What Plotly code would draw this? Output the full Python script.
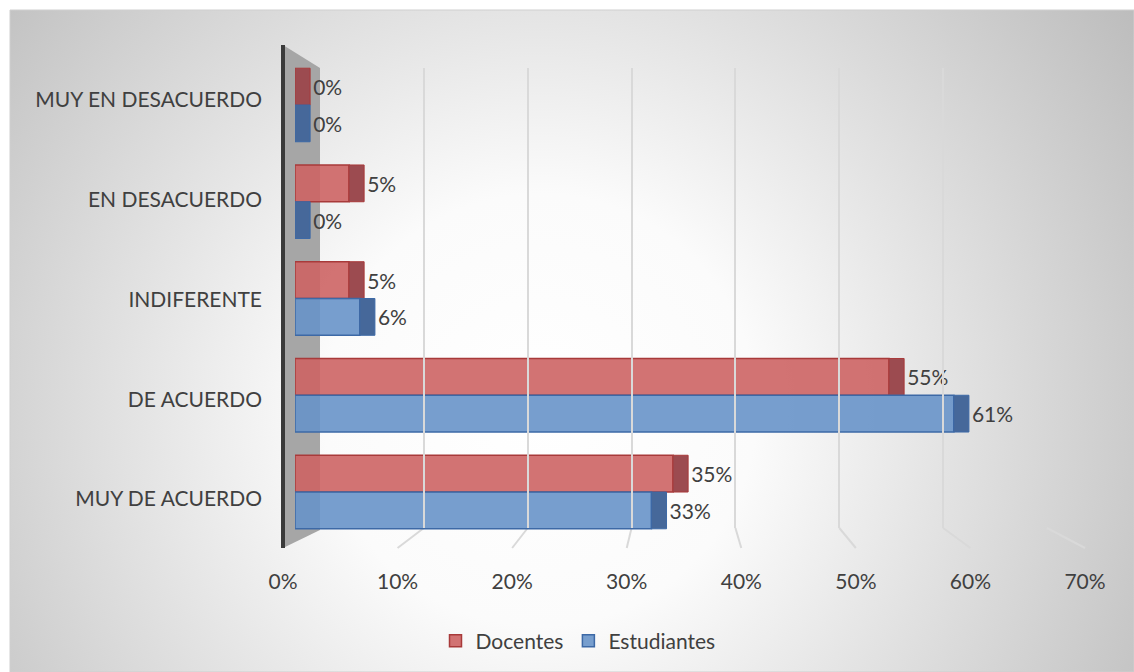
import base64
import plotly.graph_objects as go

# ---------------- data ----------------
categories = ["MUY DE ACUERDO", "DE ACUERDO", "INDIFERENTE", "EN DESACUERDO", "MUY EN DESACUERDO"]
docentes = [35, 55, 5, 5, 0]
estudiantes = [33, 61, 6, 0, 0]
x_ticks = [0, 10, 20, 30, 40, 50, 60, 70]
tick_labels = ["0%", "10%", "20%", "30%", "40%", "50%", "60%", "70%"]

# ---------------- layout helpers ----------------
W, H = 1134, 672


def px(x):
    return x / W


def py(y):
    return (H - y) / H


FONT = "Lato"
FS = 21
TXT = "#404040"
DEPTH = 1.4      # depth of the 3D end-cap, in axis units
BAR_W = 0.38

series = [
    ("Docentes", docentes, "rgba(205,100,100,0.9)", "#A83A3A", "#9C4B50", 0.0),
    ("Estudiantes", estudiantes, "rgba(104,148,201,0.9)", "#3D69A6", "#46689A", -BAR_W),
]

fig = go.Figure()

for name, vals, face, edge, cap, off in series:
    fig.add_trace(go.Bar(
        y=categories, x=vals, orientation="h", name=name,
        width=BAR_W, offset=off,
        marker=dict(color=face, line=dict(color=edge, width=1.5)),
        xaxis="x", yaxis="y", hoverinfo="skip",
    ))
    fig.add_trace(go.Bar(
        y=categories, x=[DEPTH] * len(vals), base=vals, orientation="h",
        showlegend=False, width=BAR_W, offset=off,
        marker=dict(color=cap, line=dict(color=edge, width=1)),
        text=[f"{v}%" for v in vals], textposition="outside",
        textfont=dict(family=FONT, size=FS, color=TXT), cliponaxis=False,
        xaxis="x", yaxis="y", hoverinfo="skip",
    ))

# helper (invisible) traces so the label / tick / grid axes get drawn
fig.add_trace(go.Scatter(x=[None] * len(categories), y=categories, xaxis="x", yaxis="y2",
                         mode="markers", marker=dict(opacity=0), showlegend=False, hoverinfo="skip"))
fig.add_trace(go.Scatter(x=x_ticks, y=[None] * len(x_ticks), xaxis="x2", yaxis="y3",
                         mode="markers", marker=dict(opacity=0), showlegend=False, hoverinfo="skip"))
fig.add_trace(go.Scatter(x=x_ticks, y=[None] * len(x_ticks), xaxis="x3", yaxis="y3",
                         mode="markers", marker=dict(opacity=0), showlegend=False, hoverinfo="skip"))

# background radial gradient
svg = (
    '<svg xmlns="http://www.w3.org/2000/svg" width="1124" height="662" viewBox="0 0 1124 662" '
    'preserveAspectRatio="none">'
    '<defs><radialGradient id="g" gradientUnits="userSpaceOnUse" cx="530" cy="400" r="720">'
    '<stop offset="0" stop-color="#ffffff"/><stop offset="0.30" stop-color="#fbfbfb"/>'
    '<stop offset="1" stop-color="#bcbcbc"/></radialGradient></defs>'
    '<rect width="1124" height="662" fill="url(#g)"/></svg>'
)
src = "data:image/svg+xml;base64," + base64.b64encode(svg.encode()).decode()
fig.add_layout_image(source=src, xref="paper", yref="paper", x=px(10), y=py(10),
                     sizex=px(W) - px(10), sizey=py(10), xanchor="left", yanchor="top",
                     sizing="stretch", layer="below")

shapes = []
# chart border
shapes.append(dict(type="rect", xref="paper", yref="paper", x0=px(10), x1=1, y0=0, y1=py(10),
                   line=dict(color="#cfcfcf", width=1), layer="below"))
# side wall
wall = (f"M {px(283)},{py(45)} L {px(320)},{py(68)} L {px(320)},{py(530)} "
        f"L {px(283)},{py(548)} Z")
shapes.append(dict(type="path", path=wall, xref="paper", yref="paper",
                   fillcolor="#a6a6a6", line=dict(width=0), layer="below"))
shapes.append(dict(type="line", xref="paper", yref="paper", x0=px(283), x1=px(283),
                   y0=py(45), y1=py(548), line=dict(color="#3a3a3a", width=4), layer="below"))
# floor lines from back gridlines to the front tick positions
for t in x_ticks[1:]:
    xb = 320 + t * (727 / 70)
    xf = 283 + t * (802 / 70)
    shapes.append(dict(type="line", xref="paper", yref="paper", x0=px(xb), x1=px(xf),
                       y0=py(528), y1=py(548), line=dict(color="#d9d9d9", width=2), layer="below"))

fig.update_layout(
    width=W, height=H,
    margin=dict(l=0, r=0, t=0, b=0, autoexpand=False),
    paper_bgcolor="white", plot_bgcolor="rgba(0,0,0,0)",
    barmode="overlay",
    font=dict(family=FONT, size=FS, color=TXT),
    showlegend=True,
    legend=dict(orientation="h", x=px(578), xanchor="center", y=py(641), yanchor="middle",
                font=dict(family=FONT, size=FS, color=TXT), bgcolor="rgba(0,0,0,0)",
                traceorder="normal", itemwidth=30),
    shapes=shapes,
    xaxis=dict(domain=[px(295), px(1051)], range=[0, 70], visible=False, anchor="y"),
    yaxis=dict(domain=[py(540.4), py(56.6)], range=[-0.5, 4.5], type="category",
               categoryorder="array", categoryarray=categories, visible=False, anchor="x"),
    yaxis2=dict(domain=[py(548.9), py(50.1)], range=[-0.5, 4.5], type="category",
                categoryorder="array", categoryarray=categories, anchor="x",
                showgrid=False, zeroline=False, showline=False, ticks="",
                ticklabelstandoff=32, tickfont=dict(family=FONT, size=FS, color=TXT)),
    xaxis2=dict(domain=[px(283), px(1085)], range=[0, 70], anchor="free", position=py(567),
                tickvals=x_ticks, ticktext=tick_labels, showgrid=False, zeroline=False,
                showline=False, ticks="", tickfont=dict(family=FONT, size=FS, color=TXT)),
    xaxis3=dict(domain=[px(320), px(1047)], range=[0, 70], anchor="y3",
                tickvals=x_ticks[1:], showticklabels=False, showgrid=True,
                gridcolor="#d9d9d9", gridwidth=2, zeroline=False, showline=False, ticks=""),
    yaxis3=dict(domain=[py(528), py(68)], range=[0, 1], visible=False, anchor="x3"),
)

fig.write_html("out.html")
